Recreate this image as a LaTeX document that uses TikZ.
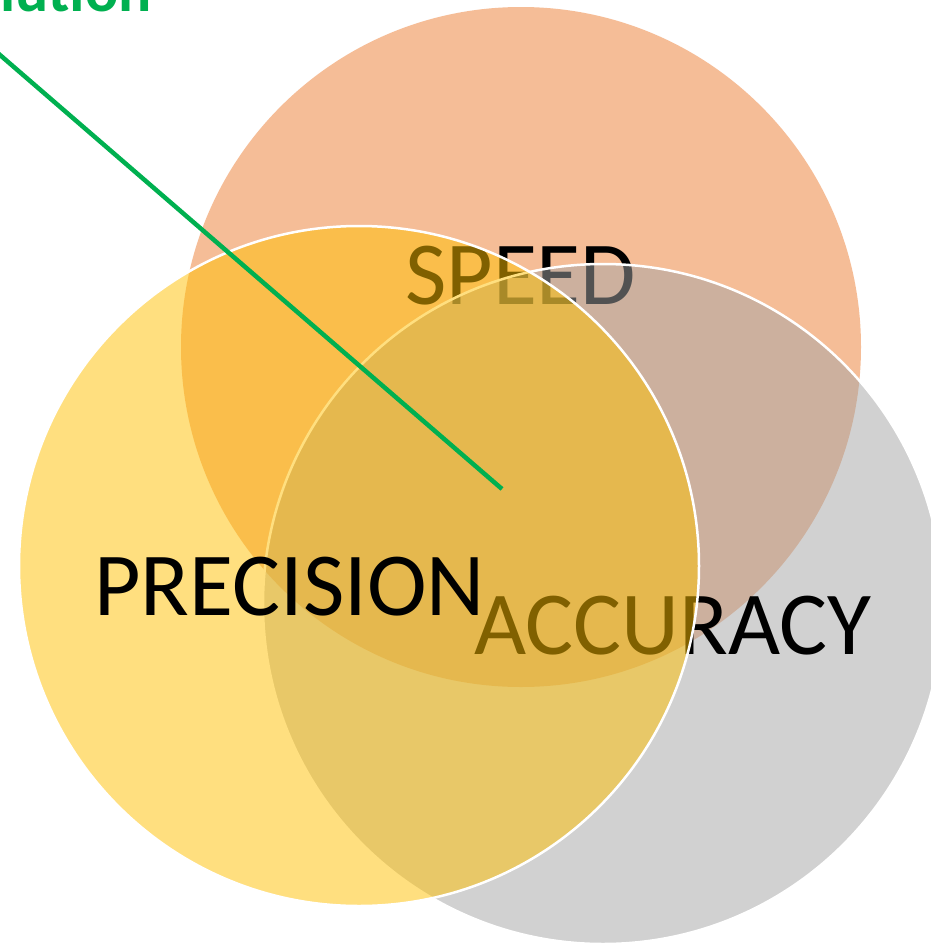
\documentclass[tikz,border=0pt]{standalone}
\usepackage{fontspec}
\setmainfont{Carlito}
\definecolor{speedC}{HTML}{ED7D31}
\definecolor{accC}{HTML}{A5A5A5}
\definecolor{precC}{HTML}{FFC000}
\definecolor{lineC}{HTML}{00B050}
\tikzset{
  venn/.style={circle, minimum size=680pt, inner sep=0pt, fill opacity=0.5, draw opacity=1},
  bigword/.style={anchor=base west, inner sep=0pt, font=\fontsize{90}{90}\selectfont, text=black},
  pointer/.style={draw=lineC, line width=4.5pt},
}
\begin{document}
\begin{tikzpicture}[x=1pt,y=-1pt]
\useasboundingbox (0,0) rectangle (931,943);
\fill[white] (0,0) rectangle (931,943);
\node[venn, fill=speedC] (speedc) at (521,347) {};
\node[bigword] (speed) at (405,304) {SPEED};
\node[venn, fill=accC, draw=white, line width=2.5pt] (accc) at (603,604) {};
\node[bigword] (acc) at (474,654) {ACCURACY};
\node[venn, fill=precC, draw=white, line width=2.5pt] (precc) at (359,566) {};
\node[bigword] (prec) at (94,615) {PRECISION};
\coordinate (lineStart) at (-12,44.6);
\coordinate (lineEnd) at (502,489);
\draw[pointer] (lineStart) -- (lineEnd);
\node[anchor=base east, inner sep=0pt, font=\bfseries\fontsize{62}{62}\selectfont, text=lineC] (title) at (152,11) {Solution};
\end{tikzpicture}
\end{document}
